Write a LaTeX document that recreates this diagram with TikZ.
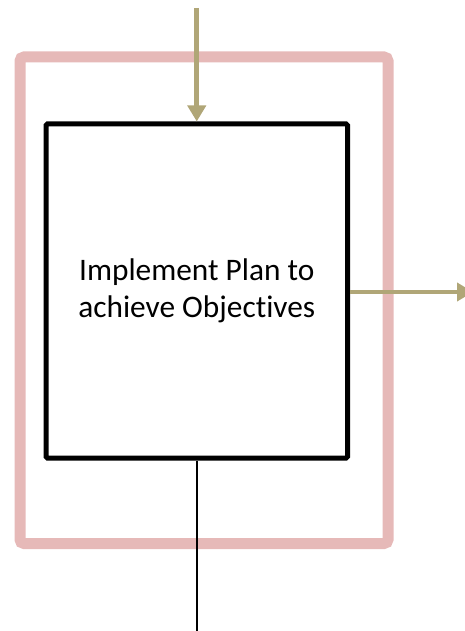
\documentclass[tikz,border=0pt]{standalone}
\usepackage{fontspec}
\setmainfont{Carlito}[Ligatures=NoCommon]
\usetikzlibrary{arrows.meta}
\definecolor{pinkline}{HTML}{E6B9B8}
\definecolor{olive}{HTML}{B0A677}
\tikzset{
  outerbox/.style={draw=pinkline, line width=8.25pt, rounded corners=3pt},
  mainbox/.style={draw=black, line width=3.75pt, rounded corners=1pt, fill=white, inner sep=0pt,
    font=\fontsize{23.5pt}{27.5pt}\selectfont, align=center},
  flow/.style={draw=olive, line width=3.5pt, -{Triangle[length=12pt,width=13.5pt]}},
  thinline/.style={draw=black, line width=1.5pt}
}
\begin{document}
\begin{tikzpicture}[x=0.75pt,y=-0.75pt]
\useasboundingbox (0,0) rectangle (464,631);
\draw[outerbox] (20,57) rectangle (388,543.5);
\node[mainbox, minimum width=301.5*0.75pt, minimum height=334*0.75pt] (m) at (196.75,291) {Implement Plan to\\achieve Objectives};
\coordinate (topin) at (196.75,8);
\coordinate (rightout) at (473,292);
\coordinate (botend) at (196.75,631);
\draw[flow] (topin) -- (m.north);
\draw[flow] (m.east |- rightout) -- (rightout);
\draw[thinline] (m.south) -- (botend);
\end{tikzpicture}
\end{document}
